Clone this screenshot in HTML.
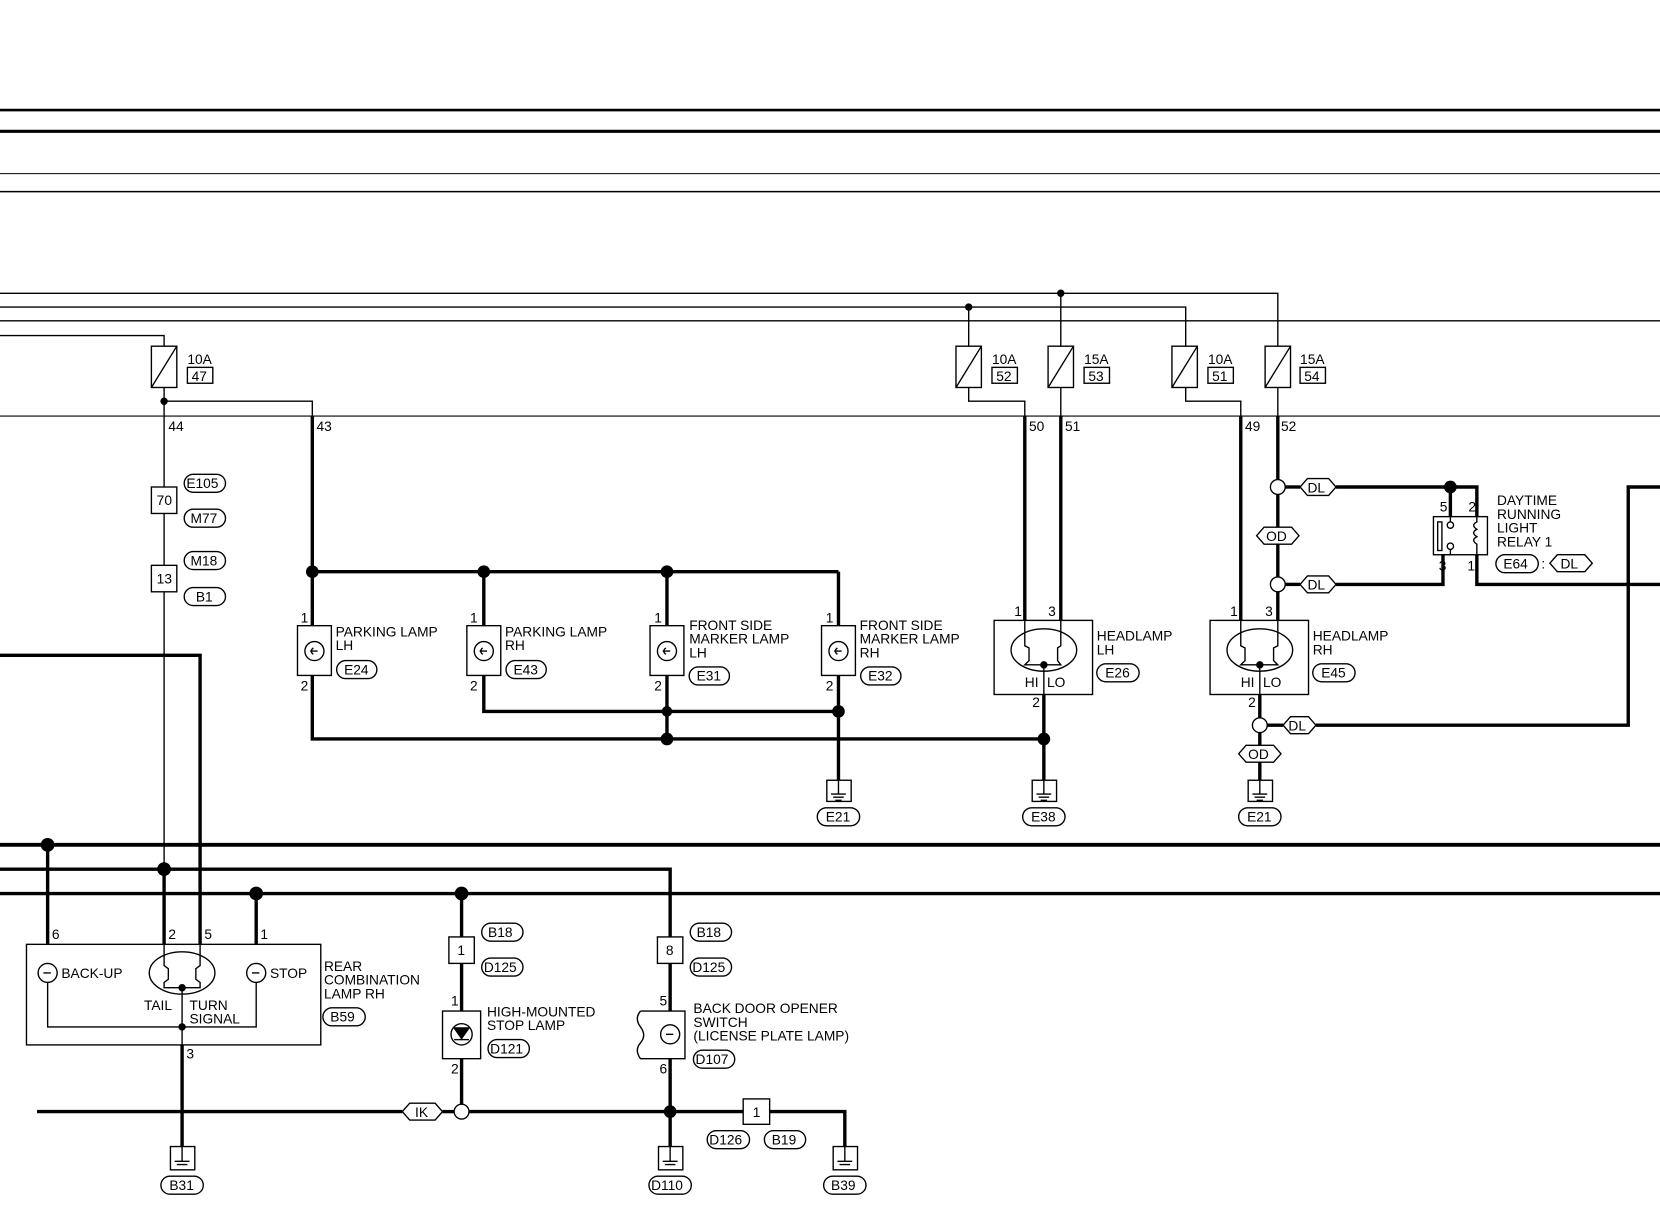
<!DOCTYPE html>
<html><head><meta charset="utf-8"><style>
html,body{margin:0;padding:0;background:#fff}
svg{display:block}
text{font-family:"Liberation Sans",sans-serif;font-size:13px;fill:#000}
</style></head><body>
<svg width="1660" height="1216" viewBox="0 0 1568 1148.6" xmlns="http://www.w3.org/2000/svg">
<g stroke="#000" fill="none">
<!-- top lines -->
<line x1="0" y1="104" x2="1568" y2="104" stroke-width="2.5"/>
<line x1="0" y1="124" x2="1568" y2="124" stroke-width="3"/>
<line x1="0" y1="164" x2="1568" y2="164" stroke-width="1"/>
<line x1="0" y1="181" x2="1568" y2="181" stroke-width="1.5"/>
<!-- supply wires -->
<g stroke-width="1.3">
<polyline points="0,277 1207,277 1207,327"/>
<polyline points="0,290 1120,290 1120,327"/>
<line x1="0" y1="303" x2="1568" y2="303"/>
<polyline points="0,317 155,317 155,327"/>
<line x1="1002" y1="277" x2="1002" y2="327"/>
<line x1="915" y1="290" x2="915" y2="327"/>
<line x1="0" y1="393" x2="1568" y2="393" stroke-width="1"/>
<!-- fuse outputs -->
<polyline points="155,366 155,820"/>
<polyline points="155,379 295,379 295,393"/>
<polyline points="915,366 915,379 968,379 968,393"/>
<line x1="1002" y1="366" x2="1002" y2="393"/>
<polyline points="1120,366 1120,379 1172,379 1172,393"/>
<line x1="1207" y1="366" x2="1207" y2="393"/>
</g>
<!-- fuses -->
<g stroke-width="1.3">
<rect x="143" y="327" width="24" height="39"/><line x1="143" y1="366" x2="167" y2="327"/>
<rect x="903" y="327" width="24" height="39"/><line x1="903" y1="366" x2="927" y2="327"/>
<rect x="990" y="327" width="24" height="39"/><line x1="990" y1="366" x2="1014" y2="327"/>
<rect x="1107" y="327" width="24" height="39"/><line x1="1107" y1="366" x2="1131" y2="327"/>
<rect x="1195" y="327" width="24" height="39"/><line x1="1195" y1="366" x2="1219" y2="327"/>
<rect x="177" y="347" width="24" height="15"/>
<rect x="937" y="347" width="24" height="15"/>
<rect x="1024" y="347" width="24" height="15"/>
<rect x="1141" y="347" width="24" height="15"/>
<rect x="1228" y="347" width="24" height="15"/>
</g>
<!-- thick wires -->
<g stroke-width="3.2">
<line x1="295" y1="393" x2="295" y2="591"/>
<line x1="295" y1="540" x2="792" y2="540"/>
<line x1="457" y1="540" x2="457" y2="591"/>
<line x1="630" y1="540" x2="630" y2="591"/>
<line x1="792" y1="540" x2="792" y2="591"/>
<polyline points="295,638 295,698 986,698"/>
<polyline points="457,638 457,672 792,672"/>
<line x1="630" y1="638" x2="630" y2="698"/>
<line x1="792" y1="638" x2="792" y2="737"/>
<line x1="968" y1="393" x2="968" y2="586"/>
<line x1="1002" y1="393" x2="1002" y2="586"/>
<line x1="986" y1="656" x2="986" y2="737"/>
<line x1="1172" y1="393" x2="1172" y2="586"/>
<line x1="1207" y1="393" x2="1207" y2="453"/>
<line x1="1207" y1="467" x2="1207" y2="545"/>
<line x1="1207" y1="559" x2="1207" y2="586"/>
<line x1="1190" y1="656" x2="1190" y2="678"/>
<line x1="1190" y1="692" x2="1190" y2="737"/>
<line x1="1214" y1="460" x2="1228" y2="460"/>
<polyline points="1262,460 1395,460 1395,488"/>
<line x1="1370" y1="460" x2="1370" y2="488"/>
<polyline points="1363,524 1363,552 1262,552"/>
<line x1="1214" y1="552" x2="1228" y2="552"/>
<polyline points="1395,524 1395,552 1568,552"/>
<polyline points="1197,685 1212,685"/>
<polyline points="1243,685 1538,685 1538,460 1568,460"/>
<polyline points="0,619 189,619 189,892"/>
<line x1="0" y1="798" x2="1568" y2="798" stroke-width="3.6"/>
<polyline points="0,821 633,821 633,885"/>
<line x1="0" y1="844" x2="1568" y2="844"/>
<line x1="45" y1="798" x2="45" y2="892"/>
<line x1="155" y1="820" x2="155" y2="892"/>
<line x1="242" y1="844" x2="242" y2="892"/>
<line x1="436" y1="844" x2="436" y2="885"/>
<line x1="436" y1="910" x2="436" y2="955"/>
<line x1="436" y1="1000" x2="436" y2="1043"/>
<line x1="633" y1="910" x2="633" y2="955"/>
<line x1="633" y1="1000" x2="633" y2="1083"/>
<line x1="172" y1="987" x2="172" y2="1083"/>
<line x1="35" y1="1050" x2="380" y2="1050"/>
<line x1="418" y1="1050" x2="429" y2="1050"/>
<polyline points="443,1050 702,1050"/>
<polyline points="727,1050 798,1050 798,1083"/>
</g>
<!-- dots -->
<g fill="#000" stroke="none">
<circle cx="155" cy="379" r="3.5"/><circle cx="915" cy="290" r="3.5"/><circle cx="1002" cy="277" r="3.5"/>
<circle cx="295" cy="540" r="6"/><circle cx="457" cy="540" r="6"/><circle cx="630" cy="540" r="6"/>
<circle cx="630" cy="698" r="6"/><circle cx="792" cy="672" r="6"/><circle cx="986" cy="698" r="6"/><circle cx="630" cy="672" r="5"/>
<circle cx="1370" cy="460" r="6"/>
<circle cx="45" cy="798" r="6.5"/><circle cx="155" cy="821" r="6.5"/><circle cx="242" cy="844" r="6.5"/><circle cx="436" cy="844" r="6.5"/>
<circle cx="633" cy="1050" r="6"/>
<circle cx="172" cy="933" r="3.5"/><circle cx="172" cy="970" r="3.5"/>
<circle cx="986" cy="628" r="3.5"/><circle cx="1190" cy="628" r="3.5"/>
</g>
<!-- open circles -->
<g stroke-width="1.3" fill="#fff">
<circle cx="1207" cy="460" r="7"/><circle cx="1207" cy="552" r="7"/><circle cx="1190" cy="685" r="7"/><circle cx="436" cy="1050" r="7"/>
</g>
<!-- connector boxes -->
<g stroke-width="1.3" fill="#fff">
<rect x="143" y="460" width="24" height="25"/>
<rect x="143" y="534" width="24" height="25"/>
<rect x="424" y="885" width="24" height="25"/>
<rect x="621" y="885" width="24" height="25"/>
<rect x="702" y="1038" width="25" height="24"/>
</g>
<!-- pills -->
<g stroke-width="1.3">
<rect x="174" y="448" width="39" height="17" rx="8.5"/>
<rect x="174" y="481" width="39" height="17" rx="8.5"/>
<rect x="174" y="521" width="39" height="17" rx="8.5"/>
<rect x="174" y="555" width="39" height="17" rx="8.5"/>
<rect x="318" y="624" width="38" height="17" rx="8.5"/>
<rect x="478" y="624" width="38" height="17" rx="8.5"/>
<rect x="651" y="630" width="38" height="17" rx="8.5"/>
<rect x="813" y="630" width="38" height="17" rx="8.5"/>
<rect x="1036" y="627" width="40" height="17" rx="8.5"/>
<rect x="1240" y="627" width="40" height="17" rx="8.5"/>
<rect x="1413" y="524" width="40" height="17" rx="8.5"/>
<rect x="772" y="763" width="40" height="17" rx="8.5"/>
<rect x="966" y="763" width="40" height="17" rx="8.5"/>
<rect x="1170" y="763" width="40" height="17" rx="8.5"/>
<rect x="305" y="952" width="40" height="17" rx="8.5"/>
<rect x="455" y="872" width="39" height="17" rx="8.5"/>
<rect x="455" y="905" width="39" height="17" rx="8.5"/>
<rect x="652" y="872" width="39" height="17" rx="8.5"/>
<rect x="652" y="905" width="39" height="17" rx="8.5"/>
<rect x="461" y="982" width="39" height="17" rx="8.5"/>
<rect x="655" y="992" width="39" height="17" rx="8.5"/>
<rect x="668" y="1068" width="40" height="17" rx="8.5"/>
<rect x="722" y="1068" width="39" height="17" rx="8.5"/>
<rect x="152" y="1111" width="40" height="17" rx="8.5"/>
<rect x="613" y="1111" width="40" height="17" rx="8.5"/>
<rect x="778" y="1111" width="40" height="17" rx="8.5"/>
</g>
<!-- hexes -->
<g stroke-width="1.3" fill="#fff">
<polygon points="1228,460 1235,452 1255,452 1262,460 1255,468 1235,468"/>
<polygon points="1228,552 1235,544 1255,544 1262,552 1255,560 1235,560"/>
<polygon points="1187,506 1194,498 1220,498 1227,506 1220,514 1194,514"/>
<polygon points="1212,685 1219,677 1236,677 1243,685 1236,693 1219,693"/>
<polygon points="1170,712 1177,704 1203,704 1210,712 1203,720 1177,720"/>
<polygon points="1464,532 1471,524 1497,524 1504,532 1497,540 1471,540"/>
<polygon points="380,1050 387,1042 411,1042 418,1050 411,1058 387,1058"/>
</g>
<!-- lamp boxes -->
<g stroke-width="1.3">
<rect x="281" y="591" width="32" height="47"/><circle cx="297" cy="615" r="9"/><path d="M293,615 h7 M296,612 q-4,3 0,6"/>
<rect x="441" y="591" width="32" height="47"/><circle cx="457" cy="615" r="9"/><path d="M453,615 h7 M456,612 q-4,3 0,6"/>
<rect x="614" y="591" width="32" height="47"/><circle cx="630" cy="615" r="9"/><path d="M626,615 h7 M629,612 q-4,3 0,6"/>
<rect x="776" y="591" width="32" height="47"/><circle cx="792" cy="615" r="9"/><path d="M788,615 h7 M791,612 q-4,3 0,6"/>
<!-- headlamps -->
<rect x="939" y="586" width="93" height="70"/><ellipse cx="986" cy="614" rx="31" ry="20"/>
<polyline points="968,586 968,610 972,612 972,624 968,628 1002,628 999,624 999,612 1002,610 1002,586"/>
<line x1="986" y1="628" x2="986" y2="656"/>
<rect x="1143" y="586" width="93" height="70"/><ellipse cx="1190" cy="614" rx="31" ry="20"/>
<polyline points="1172,586 1172,610 1176,612 1176,624 1172,628 1207,628 1203,624 1203,612 1207,610 1207,586"/>
<line x1="1190" y1="628" x2="1190" y2="656"/>
<!-- relay -->
<rect x="1354" y="488" width="51" height="36"/>
<rect x="1358" y="493" width="4" height="27"/>
<circle cx="1370" cy="496" r="3"/><circle cx="1370" cy="516" r="3"/>
<line x1="1370" y1="488" x2="1370" y2="493"/><polyline points="1370,519 1370,524 1363,524"/>
<path d="M1395,488 v5 q-6,3 0,7 q-6,3 0,7 q-6,3 0,7 v10"/>
<!-- rear combination -->
<rect x="25" y="892" width="278" height="95"/>
<circle cx="45" cy="919" r="9"/><path d="M41,919 h7"/>
<circle cx="242" cy="919" r="9"/><path d="M238,919 h7"/>
<ellipse cx="172" cy="919" rx="31" ry="20"/>
<polyline points="155,892 155,912 159,915 159,925 155,928 155,933 189,933 189,928 185,925 185,915 189,912 189,892"/>
<line x1="172" y1="933" x2="172" y2="987"/>
<polyline points="45,928 45,970 242,970 242,928"/>
<!-- high mounted -->
<rect x="418" y="955" width="36" height="45"/><circle cx="436" cy="977" r="10"/>
<polygon points="429,971 443,971 436,981" fill="#000"/><line x1="429" y1="982" x2="443" y2="982"/>
<!-- back door -->
<path d="M605,955 h42 v45 h-42 q-6,-8 0,-15 q6,-7 0,-15 q-6,-8 0,-15"/>
<circle cx="633" cy="977" r="9"/><path d="M629,977 h7"/>
</g>
<!-- grounds -->
<g stroke-width="1.3">
<rect x="781" y="737" width="23" height="20"/><path d="M792,737 v13 M785,750 h14 M787,753 h10 M789,756 h6"/>
<rect x="975" y="737" width="23" height="20"/><path d="M986,737 v13 M979,750 h14 M981,753 h10 M983,756 h6"/>
<rect x="1179" y="737" width="23" height="20"/><path d="M1190,737 v13 M1183,750 h14 M1185,753 h10 M1187,756 h6"/>
<rect x="161" y="1083" width="23" height="22"/><path d="M172,1083 v14 M165,1097 h14 M167,1100 h10"/>
<rect x="622" y="1083" width="23" height="22"/><path d="M633,1083 v14 M626,1097 h14 M628,1100 h10"/>
<rect x="787" y="1083" width="23" height="22"/><path d="M798,1083 v14 M791,1097 h14 M793,1100 h10"/>
</g>
</g>
<!-- text -->
<g font-size="13">
<text x="177" y="344">10A</text><text x="181" y="360">47</text>
<text x="937" y="344">10A</text><text x="941" y="360">52</text>
<text x="1024" y="344">15A</text><text x="1028" y="360">53</text>
<text x="1141" y="344">10A</text><text x="1145" y="360">51</text>
<text x="1228" y="344">15A</text><text x="1232" y="360">54</text>
<text x="159" y="407">44</text><text x="299" y="407">43</text>
<text x="972" y="407">50</text><text x="1006" y="407">51</text>
<text x="1176" y="407">49</text><text x="1210" y="407">52</text>
<text x="148" y="477">70</text><text x="148" y="551">13</text>
<text x="176" y="461">E105</text><text x="180" y="494">M77</text><text x="180" y="534">M18</text><text x="185" y="568">B1</text>
<text x="284" y="588">1</text><text x="284" y="652">2</text>
<text x="444" y="588">1</text><text x="444" y="652">2</text>
<text x="618" y="588">1</text><text x="618" y="652">2</text>
<text x="780" y="588">1</text><text x="780" y="652">2</text>
<text x="317" y="601">PARKING LAMP</text><text x="317" y="614">LH</text>
<text x="477" y="601">PARKING LAMP</text><text x="477" y="614">RH</text>
<text x="651" y="595">FRONT SIDE</text><text x="651" y="608">MARKER LAMP</text><text x="651" y="621">LH</text>
<text x="812" y="595">FRONT SIDE</text><text x="812" y="608">MARKER LAMP</text><text x="812" y="621">RH</text>
<text x="325" y="637">E24</text><text x="485" y="637">E43</text><text x="658" y="643">E31</text><text x="820" y="643">E32</text>
<text x="958" y="582">1</text><text x="990" y="582">3</text><text x="975" y="668">2</text>
<text x="968" y="649">HI</text><text x="989" y="649">LO</text>
<text x="1036" y="605">HEADLAMP</text><text x="1036" y="618">LH</text><text x="1044" y="640">E26</text>
<text x="1162" y="582">1</text><text x="1195" y="582">3</text><text x="1179" y="668">2</text>
<text x="1172" y="649">HI</text><text x="1193" y="649">LO</text>
<text x="1240" y="605">HEADLAMP</text><text x="1240" y="618">RH</text><text x="1248" y="640">E45</text>
<text x="1235" y="465">DL</text><text x="1235" y="557">DL</text><text x="1196" y="511">OD</text>
<text x="1217" y="690">DL</text><text x="1179" y="717">OD</text><text x="1474" y="537">DL</text>
<text x="1360" y="483">5</text><text x="1387" y="483">2</text><text x="1359" y="539">3</text><text x="1386" y="539">1</text>
<text x="1414" y="477">DAYTIME</text><text x="1414" y="490">RUNNING</text><text x="1414" y="503">LIGHT</text><text x="1414" y="516">RELAY 1</text>
<text x="1420" y="537">E64</text><text x="1456" y="537">:</text>
<text x="780" y="776">E21</text><text x="974" y="776">E38</text><text x="1178" y="776">E21</text>
<text x="49" y="887">6</text><text x="159" y="887">2</text><text x="193" y="887">5</text><text x="246" y="887">1</text>
<text x="58" y="924">BACK-UP</text><text x="255" y="924">STOP</text>
<text x="136" y="954">TAIL</text><text x="179" y="954">TURN</text><text x="179" y="967">SIGNAL</text>
<text x="176" y="1000">3</text>
<text x="306" y="917">REAR</text><text x="306" y="930">COMBINATION</text><text x="306" y="943">LAMP RH</text>
<text x="312" y="965">B59</text>
<text x="432" y="902">1</text><text x="629" y="902">8</text>
<text x="461" y="885">B18</text><text x="457" y="918">D125</text><text x="658" y="885">B18</text><text x="654" y="918">D125</text>
<text x="426" y="950">1</text><text x="426" y="1014">2</text>
<text x="460" y="960">HIGH-MOUNTED</text><text x="460" y="973">STOP LAMP</text><text x="463" y="995">D121</text>
<text x="623" y="950">5</text><text x="623" y="1014">6</text>
<text x="655" y="957">BACK DOOR OPENER</text><text x="655" y="970">SWITCH</text><text x="655" y="983">(LICENSE PLATE LAMP)</text>
<text x="657" y="1005">D107</text>
<text x="392" y="1055">IK</text>
<text x="711" y="1055">1</text>
<text x="670" y="1081">D126</text><text x="729" y="1081">B19</text>
<text x="160" y="1124">B31</text><text x="615" y="1124">D110</text><text x="785" y="1124">B39</text>
</g>
</svg>
</body></html>
